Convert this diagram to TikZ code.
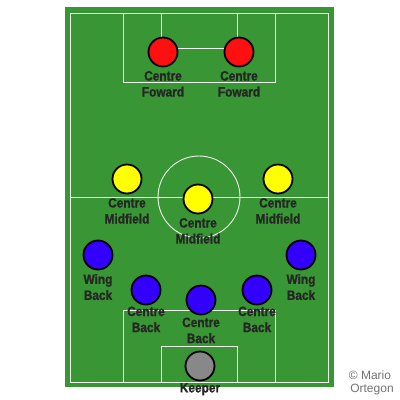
\documentclass[tikz,border=0pt]{standalone}
\usepackage{fontspec}
\setmainfont{Liberation Sans}
\newfontfamily\rolefont[FakeStretch=0.88,FakeBold=1.2]{Liberation Sans Bold}
\usetikzlibrary{positioning}
\definecolor{pitch}{RGB}{57,150,52}
\definecolor{fwd}{RGB}{255,16,16}
\definecolor{mid}{RGB}{255,255,0}
\definecolor{def}{RGB}{51,0,255}
\definecolor{gk}{RGB}{136,136,136}
\begin{document}
\begin{tikzpicture}[x=1pt,y=-1pt,
	line/.style={draw=white!92!pitch,line width=0.9pt},
	fwd/.style={circle,draw=black,line width=1.8pt,fill=fwd,minimum size=29pt,inner sep=0pt},
	mid/.style={circle,draw=black,line width=1.8pt,fill=mid,minimum size=29pt,inner sep=0pt},
	def/.style={circle,draw=black,line width=1.8pt,fill=def,minimum size=29pt,inner sep=0pt},
	gk/.style={circle,draw=black,line width=1.8pt,fill=gk,minimum size=29pt,inner sep=0pt},
	role/.style={font=\rolefont\fontsize{13.5}{16}\selectfont,text=black!85,align=center,inner sep=0pt,node distance=3.5pt}]

	\useasboundingbox[fill=white] (0,0) rectangle (400,400);
	\fill[pitch] (65,7) rectangle (334,387);

	% pitch markings
	\draw[line] (70,13) rectangle (328,382);
	\draw[line] (70,197) -- (328,197);
	\draw[line] (199,197) circle (41);
	\draw[line] (123,13) -- (123,82) -- (275,82) -- (275,13);
	\draw[line] (161,13) -- (161,48) -- (237,48) -- (237,13);
	\draw[line] (123,382) -- (123,310) -- (275,310) -- (275,382);
	\draw[line] (161,382) -- (161,346) -- (237,346) -- (237,382);

	% forwards
	\node[fwd] (cf1) at (163,52) {};
	\node[fwd] (cf2) at (239,52) {};
	\node[role,below=of cf1] (cf1l) {Centre\\Foward};
	\node[role,below=of cf2] (cf2l) {Centre\\Foward};

	% midfield
	\node[mid] (cm1) at (127,179) {};
	\node[mid] (cm2) at (198,199) {};
	\node[mid] (cm3) at (278,179) {};
	\node[role,below=of cm1] (cm1l) {Centre\\Midfield};
	\node[role,below=of cm2] (cm2l) {Centre\\Midfield};
	\node[role,below=of cm3] (cm3l) {Centre\\Midfield};

	% defence
	\node[def] (wb1) at (98,255) {};
	\node[def] (wb2) at (301,255) {};
	\node[def] (cb1) at (146,290) {};
	\node[def] (cb2) at (201,300) {};
	\node[def] (cb3) at (257,290) {};
	\node[role,below=of wb1] (wb1l) {Wing\\Back};
	\node[role,below=of wb2] (wb2l) {Wing\\Back};
	\node[role,below=1pt of cb1] (cb1l) {Centre\\Back};
	\node[role,below=2pt of cb2] (cb2l) {Centre\\Back};
	\node[role,below=1pt of cb3] (cb3l) {Centre\\Back};

	% keeper
	\node[gk] (gk) at (200,366) {};
	\node[role,below=1.5pt of gk] (gkl) {Keeper};

	\node[font=\fontsize{12}{13}\selectfont,text=black!55,align=center,inner sep=0pt] (credit) at (370,383) {© Mario\\\hspace*{4pt}Ortegon};
\end{tikzpicture}
\end{document}
